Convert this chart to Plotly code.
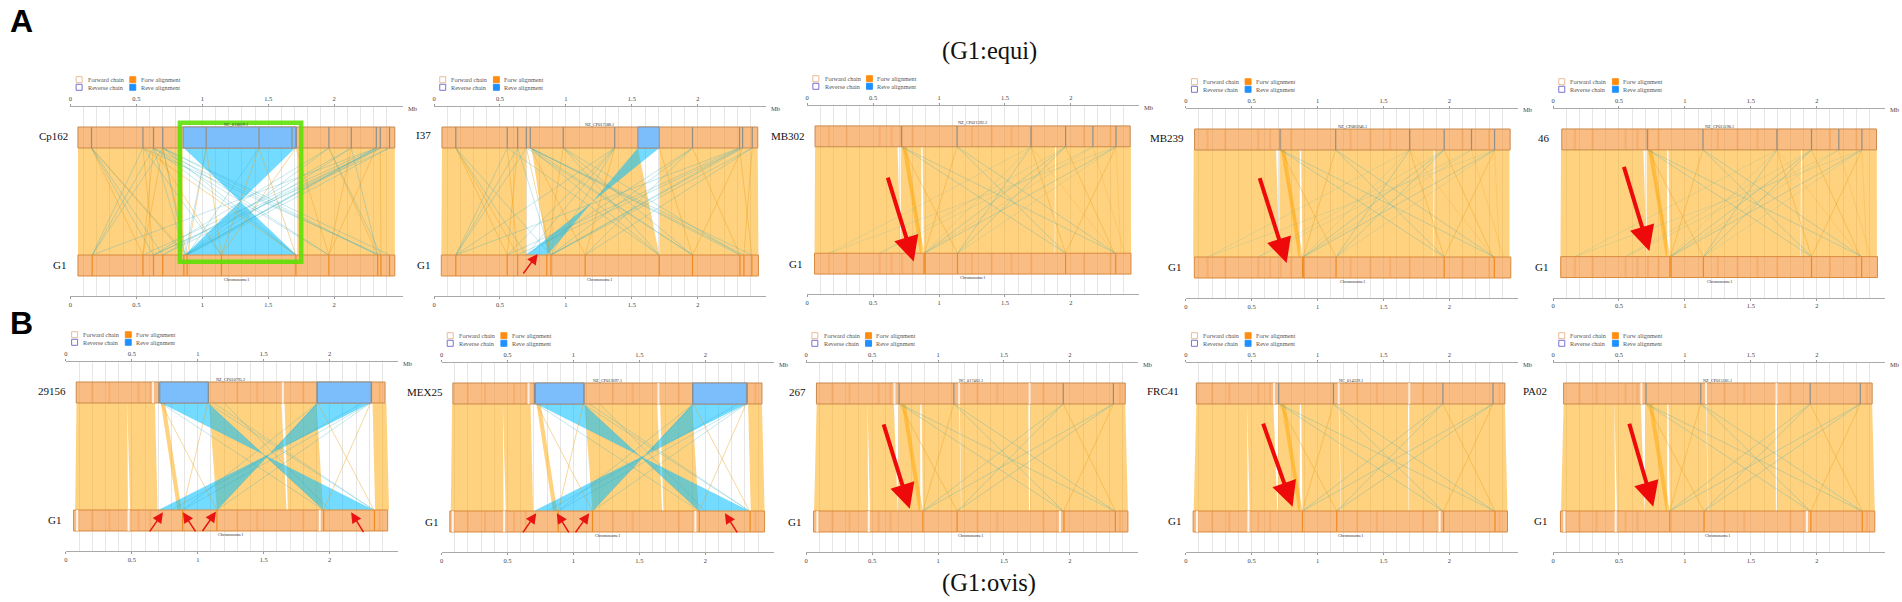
import plotly.graph_objects as go

SERIF = "Liberation Serif"

# strain names, one per panel (row A then row B)
strains = ["Cp162", "I37", "MB302", "MB239", "46", "29156", "MEX25", "267", "FRC41", "PA02"]
accessions = ["NC_018019.1", "NZ_CP017588.1", "NZ_CP021392.2", "NZ_CP085946.1", "NZ_CP015190.1",
              "NZ_CP010795.2", "NZ_CP013697.1", "NC_017462.1", "NC_014329.1", "NZ_CP015181.1"]
tick_vals = [0, 0.5, 1, 1.5, 2]
tick_text = ["0", "0.5", "1", "1.5", "2"]
grid_vals = [0.1, 0.2, 0.3, 0.4, 0.6, 0.7, 0.8, 0.9, 1.1, 1.2, 1.3, 1.4, 1.6, 1.7, 1.8, 1.9, 2.1, 2.2, 2.3, 2.4]

# chain extents in Mb (start, end)
top_extent = [(0.057, 2.46), (0.06, 2.455), (0.06, 2.45), (0.067, 2.46), (0.066, 2.453),
              (0.078, 2.42), (0.086, 2.43), (0.078, 2.42), (0.08, 2.42), (0.08, 2.42)]
bot_extent = [(0.057, 2.46), (0.055, 2.46), (0.056, 2.456), (0.065, 2.465), (0.058, 2.46),
              (0.058, 2.44), (0.063, 2.45), (0.056, 2.44), (0.056, 2.44), (0.056, 2.44)]

# Cp162: ribbons are (top start, top end, bottom start, bottom end), lines are (top, bottom)
cp162_top_marks = [0.16, 0.55, 0.63, 0.70, 1.03, 1.43, 1.68, 1.71, 1.96, 2.13, 2.32, 2.35, 2.42]
cp162_bot_marks = [0.165, 0.55, 0.63, 0.70, 0.86, 0.885, 1.145, 1.71, 1.96, 2.33, 2.355, 2.42]
cp162_top_rev = [(0.855, 1.714)]
cp162_fwd = [(0.057, 0.85, 0.057, 0.858), (1.72, 2.46, 1.72, 2.46)]
cp162_rev = [(0.86, 1.704, 0.868, 1.714)]
cp162_fwd_lines = [(0.16, 0.55), (0.16, 0.885), (0.55, 0.63), (0.63, 0.55), (0.63, 1.145), (0.70, 0.885),
                   (1.03, 0.885), (1.43, 1.145), (1.43, 1.71), (1.71, 1.145), (1.71, 1.96), (1.96, 2.33),
                   (2.13, 1.96), (2.32, 1.96), (2.35, 2.355), (0.70, 0.55), (1.03, 1.145), (0.55, 1.71)]
cp162_rev_lines = [(0.16, 0.63), (0.16, 0.70), (0.16, 0.87), (0.55, 0.165), (0.63, 0.165), (0.70, 0.165),
                   (0.63, 0.87), (0.70, 0.87), (0.55, 1.145), (0.63, 1.71), (0.70, 1.71), (0.63, 1.96),
                   (0.63, 2.33), (0.70, 2.33), (1.03, 0.87), (1.43, 0.885), (1.96, 0.87), (1.96, 0.63),
                   (2.13, 0.70), (2.32, 0.165), (2.32, 0.55), (2.35, 0.63), (2.35, 0.70), (2.42, 0.885),
                   (2.32, 0.87), (2.35, 0.87), (2.13, 0.87), (0.55, 2.355), (2.32, 0.885), (2.42, 0.63),
                   (0.70, 1.96), (0.70, 2.42), (1.96, 2.355), (2.13, 2.33)]

# I37
i37_top_marks = [0.165, 0.555, 0.634, 0.70, 0.73, 0.98, 1.37, 1.96, 2.317, 2.34, 2.413]
i37_bot_marks = [0.165, 0.555, 0.634, 0.855, 0.887, 1.146, 1.708, 1.96, 2.32, 2.35, 2.41]
i37_top_rev = [(1.546, 1.708)]
i37_fwd = [(0.06, 0.70, 0.055, 0.70), (0.74, 1.546, 0.86, 1.708), (1.708, 2.455, 1.708, 2.46)]
i37_rev = [(1.546, 1.708, 0.70, 0.86)]
i37_fwd_lines = [(0.165, 0.555), (0.165, 0.634), (0.555, 0.634), (0.634, 0.555), (0.73, 1.146), (0.70, 0.887),
                 (0.98, 0.855), (1.37, 1.146), (1.708, 1.96), (1.96, 2.32), (2.34, 1.96), (2.413, 2.35),
                 (2.317, 2.41)]
i37_rev_lines = [(0.165, 0.70), (0.555, 0.165), (0.634, 0.165), (0.70, 0.165), (0.73, 1.708), (0.73, 1.96),
                 (0.73, 2.32), (0.73, 2.35), (0.73, 2.41), (0.98, 1.708), (0.98, 1.96), (0.98, 2.32),
                 (1.37, 0.165), (1.37, 0.555), (1.37, 0.887), (1.96, 0.887), (1.96, 1.146), (1.96, 0.70),
                 (2.317, 0.165), (2.317, 0.555), (2.317, 0.887), (2.34, 0.634), (2.34, 0.887), (2.413, 0.887),
                 (2.413, 1.146), (0.634, 0.887), (0.555, 1.708), (0.70, 1.96), (0.165, 0.887), (1.37, 0.70)]

# MB302, MB239 and 46 share one layout of blocks
equi_top_marks = [0.715, 1.137, 1.698, 1.96, 2.167, 2.342]
equi_bot_marks = [0.886, 0.895, 1.14, 1.96, 2.34]
equi_fwd = [(0.06, 0.685, 0.056, 0.71), (0.71, 0.865, 0.71, 0.865), (0.725, 0.755, 0.855, 0.885),
            (0.875, 1.135, 0.885, 1.14), (1.135, 1.88, 1.14, 1.877), (1.888, 2.455, 1.88, 2.456)]
equi_fwd_lines = [(0.72, 1.14), (1.137, 0.89), (1.96, 2.33), (2.342, 1.96), (1.698, 1.96)]
equi_rev_lines = [(0.72, 1.96), (0.72, 2.34), (1.137, 1.96), (1.137, 2.34), (1.698, 1.14),
                  (1.96, 0.89), (1.96, 1.14), (2.342, 0.89)]
equi_faint_lines = [(1.698, 0.165), (1.96, 0.55), (2.167, 0.55), (2.342, 0.165), (1.698, 0.89), (2.167, 0.89),
                    (2.342, 1.14)]
equi_faint_fwd = [(2.167, 2.41), (1.698, 2.33), (2.342, 2.38), (0.72, 0.89)]
equi_streaks = [0.165, 0.30, 0.55, 0.64, 0.72, 0.80, 1.25, 1.40, 1.55, 1.70, 2.10, 2.30]

# 29156 and MEX25 carry the same two inversions
ovis_top_marks = [0.705, 1.08, 1.905, 2.315]
ovis_bot_marks = [0.885, 1.145, 1.955, 2.34]
ovis_top_rev = [(0.712, 1.08), (1.905, 2.318)]
ovis_fwd = [(0.08, 0.465, 0.07, 0.47), (0.465, 0.675, 0.487, 0.695), (0.72, 0.752, 0.845, 0.877),
            (1.085, 1.635, 1.145, 1.673), (1.658, 1.90, 1.683, 1.95), (2.325, 2.43, 2.345, 2.45)]
ovis_rev = [(0.72, 1.075, 1.955, 2.335), (1.905, 2.31, 0.70, 1.145)]
ovis_fwd_lines = [(0.72, 1.145), (1.075, 0.885), (1.91, 2.335), (2.31, 1.955)]
ovis_rev_lines = [(1.075, 2.335), (1.075, 1.955), (0.72, 1.955), (1.91, 0.885), (1.91, 1.145), (2.31, 0.885),
                  (2.31, 1.145), (1.12, 2.335), (1.2, 2.0), (2.25, 0.80)]
ovis_streaks = [0.20, 0.33, 0.55, 0.64, 1.30, 1.45, 1.80, 2.38]

# 267, FRC41 and PA02
late_top_marks = [0.705, 1.12, 1.95, 2.33]
late_bot_marks = [0.885, 1.145, 1.955, 2.345]
late_fwd = [(0.08, 0.465, 0.06, 0.47), (0.465, 0.665, 0.485, 0.695), (0.70, 0.865, 0.70, 0.865),
            (0.725, 0.755, 0.855, 0.885), (0.875, 1.16, 0.885, 1.175), (1.164, 1.685, 1.178, 1.69),
            (1.70, 2.42, 1.697, 2.44)]
late_fwd_lines = [(0.71, 1.145), (1.12, 0.885), (1.95, 2.345), (2.33, 1.955)]
late_rev_lines = [(0.71, 1.95), (0.71, 2.34), (1.12, 1.95), (1.12, 2.34), (1.95, 0.885), (1.95, 1.145),
                  (2.33, 0.885), (2.33, 1.145)]

# white gaps through the chains of the ovis row (Mb)
ovis_top_gaps = [0.66, 1.645]
ovis_bot_gaps = [0.085, 0.475, 1.925]
late_top_gaps = [0.67, 1.16, 1.695]
late_bot_gaps = [0.085, 0.475, 1.925]

# red arrows: tail x, tail y, head x, head y (y 1 = top chain, 0 = bottom chain)
big_arrows = {2: [(0.608, 0.725, 0.808, -0.078)],
              3: [(0.557, 0.751, 0.765, -0.056)],
              4: [(0.534, 0.855, 0.73, 0.052)],
              7: [(0.584, 0.823, 0.786, 0.02)],
              8: [(0.583, 0.83, 0.81, 0.04)],
              9: [(0.575, 0.83, 0.76, 0.04)]}
small_arrows = {1: [(0.669, -0.187, 0.786, 0.01)],
                5: [(0.628, -0.214, 0.736, -0.022), (0.99, -0.214, 0.887, -0.022),
                    (1.028, -0.21, 1.138, -0.015), (2.264, -0.22, 2.163, -0.022)],
                6: [(0.61, -0.214, 0.718, -0.02), (0.972, -0.214, 0.874, -0.02),
                    (1.008, -0.214, 1.12, -0.02), (2.249, -0.214, 2.149, -0.02)]}
green_box = [0.83, 1.75, -0.063, 1.236]

top_marks = [cp162_top_marks, i37_top_marks, equi_top_marks, equi_top_marks, equi_top_marks,
             ovis_top_marks, ovis_top_marks, late_top_marks, late_top_marks, late_top_marks]
bot_marks = [cp162_bot_marks, i37_bot_marks, equi_bot_marks, equi_bot_marks, equi_bot_marks,
             ovis_bot_marks, ovis_bot_marks, late_bot_marks, late_bot_marks, late_bot_marks]
top_rev = [cp162_top_rev, i37_top_rev, [], [], [], ovis_top_rev, ovis_top_rev, [], [], []]
fwd_blocks = [cp162_fwd, i37_fwd, equi_fwd, equi_fwd, equi_fwd, ovis_fwd, ovis_fwd, late_fwd, late_fwd, late_fwd]
rev_blocks = [cp162_rev, i37_rev, [], [], [], ovis_rev, ovis_rev, [], [], []]
fwd_lines = [cp162_fwd_lines, i37_fwd_lines, equi_fwd_lines, equi_fwd_lines, equi_fwd_lines,
             ovis_fwd_lines, ovis_fwd_lines, late_fwd_lines, late_fwd_lines, late_fwd_lines]
rev_lines = [cp162_rev_lines, i37_rev_lines, equi_rev_lines, equi_rev_lines, equi_rev_lines,
             ovis_rev_lines, ovis_rev_lines, late_rev_lines, late_rev_lines, late_rev_lines]
faint_rev = [[], [], equi_faint_lines, equi_faint_lines, equi_faint_lines, [], [], [], [], []]
faint_fwd = [[], [], equi_faint_fwd, equi_faint_fwd, equi_faint_fwd, [], [], [], [], []]
top_gaps = [[], [], [], [], [], ovis_top_gaps, ovis_top_gaps, late_top_gaps, late_top_gaps, late_top_gaps]
bot_gaps = [[], [], [], [], [], ovis_bot_gaps, ovis_bot_gaps, late_bot_gaps, late_bot_gaps, late_bot_gaps]
streaks = [[], [], equi_streaks, equi_streaks, equi_streaks, ovis_streaks, ovis_streaks,
           ovis_streaks, ovis_streaks, ovis_streaks]

# where each panel sits on the page, in pixels
W, H = 1902, 602
MB_PX = 132
X_MAX = 2.52
CHAIN_H = 0.196
Y_PAD = 0.383
panel_zero = [68.5, 432.5, 806, 1185, 1552.7, 64, 440, 805, 1185, 1552.7]
panel_top = [107, 107, 106, 109, 109, 362, 363, 363, 363, 363]
panel_bottom = [296, 296, 294, 298, 297.5, 551, 552, 552, 552, 552]
label_right = [68, 431.7, 805.7, 1185.7, 1551.7, 66, 443.3, 806.7, 1180, 1549]
label_y = [136, 135, 135.7, 138.3, 138, 391, 392.3, 391.7, 391, 391]
g1_right = [66, 430, 802.7, 1182.3, 1550, 61.3, 438, 801.7, 1182, 1549]
g1_y = [265, 265, 264, 267, 267, 520, 521.7, 521.7, 521, 521]


def px(x):
    return x / W


def py(y):
    return 1 - y / H


def text(x, y, s, size, color="#444", anchor="center", family=SERIF, **kw):
    return dict(x=px(x), y=py(y), xref="paper", yref="paper", text=s, showarrow=False,
                xanchor=anchor, yanchor="middle", font=dict(family=family, size=size, color=color),
                **kw)


def ribbon_trace(top_s, top_e, bot_s, bot_e, color, xa, ya):
    return go.Scatter(x=[top_s, top_e, bot_e, bot_s, top_s], y=[1, 1, 0, 0, 1], mode="lines",
                      fill="toself", fillcolor=color, line=dict(width=0), hoverinfo="skip",
                      xaxis=xa, yaxis=ya, showlegend=False)


def line_trace(pairs, color, width, xa, ya):
    xs, ys = [], []
    for t, b in pairs:
        xs += [t, b, None]
        ys += [1, 0, None]
    return go.Scatter(x=xs, y=ys, mode="lines", line=dict(color=color, width=width), hoverinfo="skip",
                      xaxis=xa, yaxis=ya, showlegend=False)


def bar_trace(x0, x1, y0, y1, fill, edge, xa, ya, width=1):
    return go.Scatter(x=[x0, x1, x1, x0, x0], y=[y0, y0, y1, y1, y0], mode="lines", fill="toself",
                      fillcolor=fill, line=dict(color=edge, width=width), hoverinfo="skip",
                      xaxis=xa, yaxis=ya, showlegend=False)


def mark_trace(vals, y0, y1, color, width, xa, ya):
    xs, ys = [], []
    for v in vals:
        xs += [v, v, None]
        ys += [y0, y1, None]
    return go.Scatter(x=xs, y=ys, mode="lines", line=dict(color=color, width=width), hoverinfo="skip",
                      xaxis=xa, yaxis=ya, showlegend=False)


fig = go.Figure()
layout = {}
annotations = []
shapes = []
ORANGE = "rgba(255,165,0,0.5)"
BLUE = "rgba(0,190,255,0.55)"
GRID = "rgba(190,190,190,0.38)"

for i in range(10):
    bottom_x, top_x = f"xaxis{2 * i + 1}", f"xaxis{2 * i + 2}"
    xa, xb = f"x{2 * i + 1}", f"x{2 * i + 2}"
    ya = f"y{i + 1}"
    zero = panel_zero[i]
    dom_x = [px(zero), px(zero + X_MAX * MB_PX)]
    dom_y = [py(panel_bottom[i]), py(panel_top[i])]
    common = dict(range=[0, X_MAX], domain=dom_x, anchor=ya, tickmode="array", tickvals=tick_vals,
                  ticktext=tick_text, ticks="outside", ticklen=2, tickcolor="#999", showline=True,
                  linecolor="#aaa", linewidth=1, zeroline=False,
                  tickfont=dict(family=SERIF, size=6.5, color="#444"))
    layout[bottom_x] = dict(common, side="bottom", showgrid=True, gridcolor=GRID, gridwidth=1,
                            minor=dict(tickmode="array", tickvals=grid_vals, showgrid=True, ticks="",
                                       gridcolor=GRID, gridwidth=1))
    layout[top_x] = dict(common, side="top", overlaying=xa, showgrid=False)
    layout[f"yaxis{i + 1}"] = dict(range=[-Y_PAD, 1 + Y_PAD], domain=dom_y, anchor=xa, visible=False)

    for t_s, t_e, b_s, b_e in fwd_blocks[i]:
        fig.add_trace(ribbon_trace(t_s, t_e, b_s, b_e, ORANGE, xa, ya))
    # inversions: the polygon crosses itself, top start runs to bottom end
    for t_s, t_e, b_s, b_e in rev_blocks[i]:
        fig.add_trace(ribbon_trace(t_s, t_e, b_e, b_s, BLUE, xa, ya))
    if faint_rev[i]:
        fig.add_trace(line_trace(faint_rev[i], "rgba(60,180,190,0.22)", 0.7, xa, ya))
    if faint_fwd[i]:
        fig.add_trace(line_trace(faint_fwd[i], "rgba(235,160,30,0.3)", 0.7, xa, ya))
    fig.add_trace(line_trace(fwd_lines[i], "rgba(235,160,30,0.6)", 0.7, xa, ya))
    fig.add_trace(line_trace(rev_lines[i], "rgba(50,175,195,0.42)", 0.7, xa, ya))

    # chains
    t0, t1 = top_extent[i]
    b0, b1 = bot_extent[i]
    fig.add_trace(bar_trace(t0, t1, 1, 1 + CHAIN_H, "rgba(245,140,40,0.58)", "#c98a4e", xb, ya))
    fig.add_trace(bar_trace(b0, b1, -CHAIN_H, 0, "rgba(245,140,40,0.58)", "#d98a3e", xa, ya))
    if streaks[i]:
        fig.add_trace(mark_trace(streaks[i], 1, 1 + CHAIN_H, "rgba(235,130,40,0.22)", 2, xb, ya))
        fig.add_trace(mark_trace(streaks[i], -CHAIN_H, 0, "rgba(235,130,40,0.22)", 2, xa, ya))
    for r0, r1 in top_rev[i]:
        fig.add_trace(bar_trace(r0, r1, 1, 1 + CHAIN_H, "rgba(120,190,255,0.97)", "#8a8f9a", xb, ya))
    if top_gaps[i]:
        fig.add_trace(mark_trace(top_gaps[i], 1, 1 + CHAIN_H, "rgba(255,255,255,0.75)", 2, xb, ya))
    if bot_gaps[i]:
        fig.add_trace(mark_trace(bot_gaps[i], -CHAIN_H, 0, "rgba(255,255,255,0.85)", 2, xa, ya))
    fig.add_trace(mark_trace(top_marks[i], 1, 1 + CHAIN_H, "#8f8f88", 1.2, xb, ya))
    fig.add_trace(mark_trace(bot_marks[i], -CHAIN_H, 0, "#ee8a22", 1.2, xa, ya))

    # chain names, strain labels and Mb tag
    mid = (t0 + t1) / 2
    annotations.append(text(zero + mid * MB_PX, panel_top[i] + 17, accessions[i], 4.3, "#333"))
    annotations.append(text(zero + mid * MB_PX, panel_bottom[i] - 16.5, "Chromosome1", 4.3, "#333"))
    annotations.append(text(label_right[i], label_y[i], strains[i], 11, "#111", "right"))
    annotations.append(text(g1_right[i], g1_y[i], "G1", 11, "#111", "right"))
    annotations.append(text(zero + X_MAX * MB_PX + 3, panel_top[i] + 1, "Mb", 6.5, "#444", "left"))

    # legend block of the panel
    lx, ly = zero + 5.7, panel_top[i] - 30.3
    swatches = [(lx, ly, "white", "#e8b48a"), (lx, ly + 7.6, "white", "#6a63cf"),
                (lx + 53.7, ly, "#ff8c10", "#ff8c10"), (lx + 53.7, ly + 7.6, "#1e90ff", "#1e90ff")]
    labels = [(lx + 9.7, ly + 3, "Forward chain"), (lx + 9.7, ly + 10.8, "Reverse chain"),
              (lx + 62.7, ly + 3, "Forw alignment"), (lx + 62.7, ly + 10.8, "Reve alignment")]
    for sx, sy, fill, edge in swatches:
        shapes.append(dict(type="rect", xref="paper", yref="paper", x0=px(sx), x1=px(sx + 6), y0=py(sy),
                           y1=py(sy + 6), fillcolor=fill, line=dict(color=edge, width=0.9)))
    for tx, ty, s in labels:
        annotations.append(text(tx, ty, s, 6.2, "#555", "left"))

    # red arrows
    for tail_x, tail_y, head_x, head_y in big_arrows.get(i, []):
        annotations.append(dict(x=head_x, y=head_y, ax=tail_x, ay=tail_y, xref=xa, yref=ya, axref=xa, ayref=ya,
                                text="", showarrow=True, arrowhead=2, arrowsize=1.25, arrowwidth=4,
                                arrowcolor="#ee0a0a"))
    for tail_x, tail_y, head_x, head_y in small_arrows.get(i, []):
        annotations.append(dict(x=head_x, y=head_y, ax=tail_x, ay=tail_y, xref=xa, yref=ya, axref=xa, ayref=ya,
                                text="", showarrow=True, arrowhead=2, arrowsize=1.4, arrowwidth=1.5,
                                arrowcolor="#e81414"))

# green frame round the Cp162 inversion
shapes.append(dict(type="rect", xref="x1", yref="y1", x0=green_box[0], x1=green_box[1], y0=green_box[2],
                   y1=green_box[3], line=dict(color="rgba(90,225,0,0.88)", width=4.5)))

# page titles and panel letters
annotations.append(text(989, 51, "(G1:equi)", 24.5, "#111"))
annotations.append(text(988, 583, "(G1:ovis)", 24.5, "#111"))
annotations.append(text(19.5, 21.5, "A", 32, "#000", family="Liberation Sans"))
annotations.append(text(19.5, 322.5, "B", 32, "#000", family="Liberation Sans"))
for a in annotations[-2:]:
    a["font"]["weight"] = "bold"

fig.update_layout(width=W, height=H, margin=dict(l=0, r=0, t=0, b=0), plot_bgcolor="white", paper_bgcolor="white",
                  showlegend=False, annotations=annotations, shapes=shapes, **layout)
fig.write_html("out.html", config={"displayModeBar": False}, post_script="document.body.style.margin='0';")
